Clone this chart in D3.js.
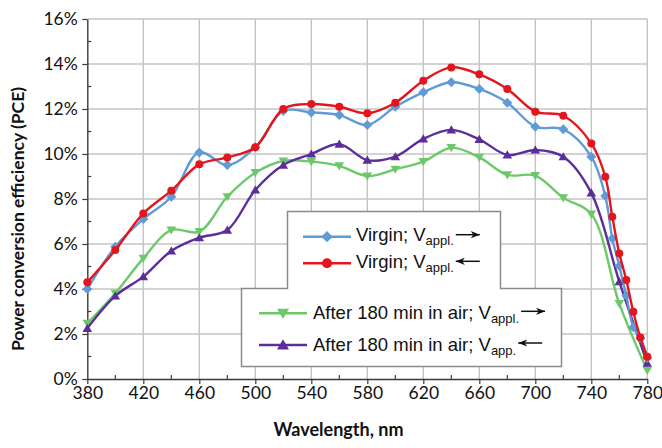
<!DOCTYPE html>
<html>
<head>
<meta charset="utf-8">
<script src="https://cdn.jsdelivr.net/npm/d3@7"></script>
<style>
  body { margin: 0; background: #fff; }
  svg { display: block; }
</style>
</head>
<body>
<svg id="chart" width="662" height="448"></svg>
<script>
// Wavelength grids (nm): the virgin scans are sampled more densely at the red edge
const wavelengthsVirgin = [380, 400, 420, 440, 460, 480, 500, 520, 540, 560, 580, 600, 620, 640, 660, 680, 700, 720, 740, 750, 755, 760, 765, 770, 775, 780];
const wavelengthsAged = [380, 400, 420, 440, 460, 480, 500, 520, 540, 560, 580, 600, 620, 640, 660, 680, 700, 720, 740, 760, 780];

// Power conversion efficiency (%)
const virginForward = [4.0, 5.88, 7.11, 8.1, 10.07, 9.51, 10.3, 11.91, 11.85, 11.73, 11.29, 12.1, 12.74, 13.19, 12.89, 12.28, 11.21, 11.1, 9.88, 8.13, 6.25, 5.02, 3.7, 2.3, 1.81, 0.95];
const virginReverse = [4.3, 5.73, 7.36, 8.37, 9.54, 9.85, 10.3, 12.0, 12.22, 12.1, 11.81, 12.28, 13.26, 13.85, 13.54, 12.89, 11.88, 11.7, 10.47, 8.99, 7.21, 5.58, 4.4, 2.99, 1.85, 0.99];
const agedForward = [2.47, 3.81, 5.36, 6.62, 6.55, 8.1, 9.17, 9.69, 9.66, 9.47, 9.02, 9.32, 9.66, 10.28, 9.85, 9.07, 9.04, 8.05, 7.33, 3.35, 0.38];
const agedReverse = [2.25, 3.69, 4.55, 5.69, 6.28, 6.62, 8.4, 9.51, 10.0, 10.44, 9.73, 9.88, 10.67, 11.07, 10.65, 9.96, 10.18, 9.88, 8.27, 4.33, 0.7];

// Axis ticks
const xTicks = [380, 420, 460, 500, 540, 580, 620, 660, 700, 740, 780];
const xMinorTicks = [400, 440, 480, 520, 560, 600, 640, 680, 720, 760];
const yTicks = [0, 2, 4, 6, 8, 10, 12, 14, 16];
const yMinorTicks = [1, 3, 5, 7, 9, 11, 13, 15];

const seriesDefs = [
  { key: "vf", wl: wavelengthsVirgin, values: virginForward, color: "#5f9bd5", marker: "diamond" },
  { key: "vr", wl: wavelengthsVirgin, values: virginReverse, color: "#e3161d", marker: "circle" },
  { key: "af", wl: wavelengthsAged, values: agedForward, color: "#6cc96a", marker: "down" },
  { key: "ar", wl: wavelengthsAged, values: agedReverse, color: "#5b2e9c", marker: "up" }
];

const svg = d3.select("#chart");
const x = d3.scaleLinear().domain([380, 780]).range([87.3, 647.3]);
const y = d3.scaleLinear().domain([0, 16]).range([379, 19]);

const axisFont = "Lato, 'Open Sans', sans-serif";
const legendFont = "'Liberation Sans', Arial, sans-serif";

// Gridlines
const grid = svg.append("g").attr("stroke", "#c4c4c4").attr("stroke-width", 1.4);
grid.selectAll("line.h").data(yTicks.filter(d => d > 0)).join("line")
  .attr("x1", x(380)).attr("x2", x(780))
  .attr("y1", d => y(d)).attr("y2", d => y(d));
grid.selectAll("line.v").data(xTicks.filter(d => d > 380)).join("line")
  .attr("x1", d => x(d)).attr("x2", d => x(d))
  .attr("y1", y(0)).attr("y2", y(16));

// Axes
const axisColor = "#3a3a3a";
const yAxis = svg.append("g").attr("transform", `translate(${x(380)},0)`)
  .call(d3.axisLeft(y).tickValues(yTicks).tickFormat(d => d + "%").tickSize(5).tickSizeOuter(0));
yAxis.select(".domain").attr("stroke", axisColor).attr("stroke-width", 1.4);
yAxis.selectAll(".tick line").attr("stroke", axisColor).attr("stroke-width", 1.2);
yAxis.selectAll(".tick text").attr("x", -9.5).attr("font-family", axisFont).attr("font-size", 17.5).attr("fill", "#111");
yAxis.selectAll("line.minor").data(yMinorTicks).join("line").attr("class", "minor")
  .attr("x1", 0).attr("x2", 4).attr("y1", d => y(d)).attr("y2", d => y(d))
  .attr("stroke", axisColor).attr("stroke-width", 1.2);

const xAxis = svg.append("g").attr("transform", `translate(0,${y(0)})`)
  .call(d3.axisBottom(x).tickValues(xTicks).tickSize(5).tickSizeOuter(0));
xAxis.select(".domain").attr("stroke", axisColor).attr("stroke-width", 1.4);
xAxis.selectAll(".tick line").attr("stroke", axisColor).attr("stroke-width", 1.2);
xAxis.selectAll(".tick text").attr("y", 20).attr("dy", null)
  .attr("font-family", axisFont).attr("font-size", 17.5).attr("fill", "#111");
xAxis.selectAll("line.minor").data(xMinorTicks).join("line").attr("class", "minor")
  .attr("x1", d => x(d)).attr("x2", d => x(d)).attr("y1", 0).attr("y2", -4)
  .attr("stroke", axisColor).attr("stroke-width", 1.2);

// Axis titles
svg.append("text")
  .attr("transform", "translate(24,219) rotate(-90)")
  .attr("text-anchor", "middle")
  .attr("font-family", axisFont).attr("font-weight", "bold").attr("font-size", 17.5).attr("fill", "#111")
  .text("Power conversion efficiency (PCE)");
svg.append("text")
  .attr("x", 338.5).attr("y", 436)
  .attr("text-anchor", "middle")
  .attr("font-family", axisFont).attr("font-weight", "bold").attr("font-size", 18).attr("fill", "#111")
  .text("Wavelength, nm");

// Marker shapes
function markerPath(type, s) {
  const p = d3.path();
  if (type === "diamond") {
    p.moveTo(0, -s); p.lineTo(s, 0); p.lineTo(0, s); p.lineTo(-s, 0); p.closePath();
  } else if (type === "circle") {
    p.arc(0, 0, s * 0.8, 0, 2 * Math.PI);
  } else if (type === "down") {
    p.moveTo(-s, -s * 0.75); p.lineTo(s, -s * 0.75); p.lineTo(0, s * 0.95); p.closePath();
  } else if (type === "up") {
    p.moveTo(-s, s * 0.75); p.lineTo(s, s * 0.75); p.lineTo(0, -s * 0.95); p.closePath();
  }
  return p.toString();
}

const line = d3.line()
  .x(d => x(d.wl)).y(d => y(d.v))
  .curve(d3.curveCatmullRom.alpha(0.5));

// Draw aged series first, virgin series on top
const drawOrder = ["af", "ar", "vf", "vr"];
drawOrder.forEach(k => {
  const s = seriesDefs.find(d => d.key === k);
  const pts = s.wl.map((w, i) => ({ wl: w, v: s.values[i] }));
  const g = svg.append("g");
  g.append("path").datum(pts).attr("d", line)
    .attr("fill", "none").attr("stroke", s.color).attr("stroke-width", 2.4);
  const size = s.marker === "circle" ? 5 : (s.marker === "diamond" ? 5 : 4.8);
  g.selectAll("path.m").data(pts).join("path").attr("class", "m")
    .attr("transform", d => `translate(${x(d.wl)},${y(d.v)})`)
    .attr("d", markerPath(s.marker, size))
    .attr("fill", s.color);
});

// Legend: two joined panels
const lg = svg.append("g");
lg.append("path")
  .attr("d", "M287.5,211.5 H500.5 V288.5 H561.5 V366.5 H241.5 V288.5 H287.5 Z")
  .attr("fill", "#fff").attr("stroke", "#8a8a8a").attr("stroke-width", 1.5);

function arrow(g, x0, x1, yy, dir) {
  g.append("line").attr("x1", x0).attr("x2", x1).attr("y1", yy).attr("y2", yy)
    .attr("stroke", "#111").attr("stroke-width", 1.5);
  const tip = dir > 0 ? x1 : x0;
  const back = tip - dir * 9;
  g.append("path")
    .attr("d", `M${tip},${yy} L${back},${yy - 3.6} L${back + dir * 2.5},${yy} L${back},${yy + 3.6} Z`)
    .attr("fill", "#111");
}

const legendItems = [
  { key: "vf", lx0: 303, lx1: 351, ly: 236.7, tx: 356, base: 241, main: "Virgin; V", sub: "appl.", dir: 1 },
  { key: "vr", lx0: 303, lx1: 351, ly: 263.3, tx: 356, base: 268, main: "Virgin; V", sub: "appl.", dir: -1 },
  { key: "af", lx0: 259, lx1: 307, ly: 313.3, tx: 313, base: 319, main: "After 180 min in air; V", sub: "appl.", dir: 1 },
  { key: "ar", lx0: 259, lx1: 307, ly: 345, tx: 313, base: 350.5, main: "After 180 min in air; V", sub: "app.", dir: -1 }
];

legendItems.forEach(it => {
  const s = seriesDefs.find(d => d.key === it.key);
  lg.append("line").attr("x1", it.lx0).attr("x2", it.lx1).attr("y1", it.ly).attr("y2", it.ly)
    .attr("stroke", s.color).attr("stroke-width", 2.6);
  const ms = s.marker === "circle" ? 6.2 : (s.marker === "diamond" ? 5.6 : 6);
  lg.append("path")
    .attr("transform", `translate(${(it.lx0 + it.lx1) / 2},${it.ly})`)
    .attr("d", markerPath(s.marker, ms)).attr("fill", s.color);
  const t = lg.append("text").attr("x", it.tx).attr("y", it.base)
    .attr("font-family", legendFont).attr("font-size", 18.5).attr("fill", "#111");
  t.append("tspan").text(it.main);
  t.append("tspan").attr("font-size", 13).attr("dy", 4).text(it.sub);
  const bb = t.node().getBBox();
  const ax0 = bb.x + bb.width + 2;
  arrow(lg, ax0, ax0 + 24, it.ly - 2, it.dir);
});
</script>
</body>
</html>
